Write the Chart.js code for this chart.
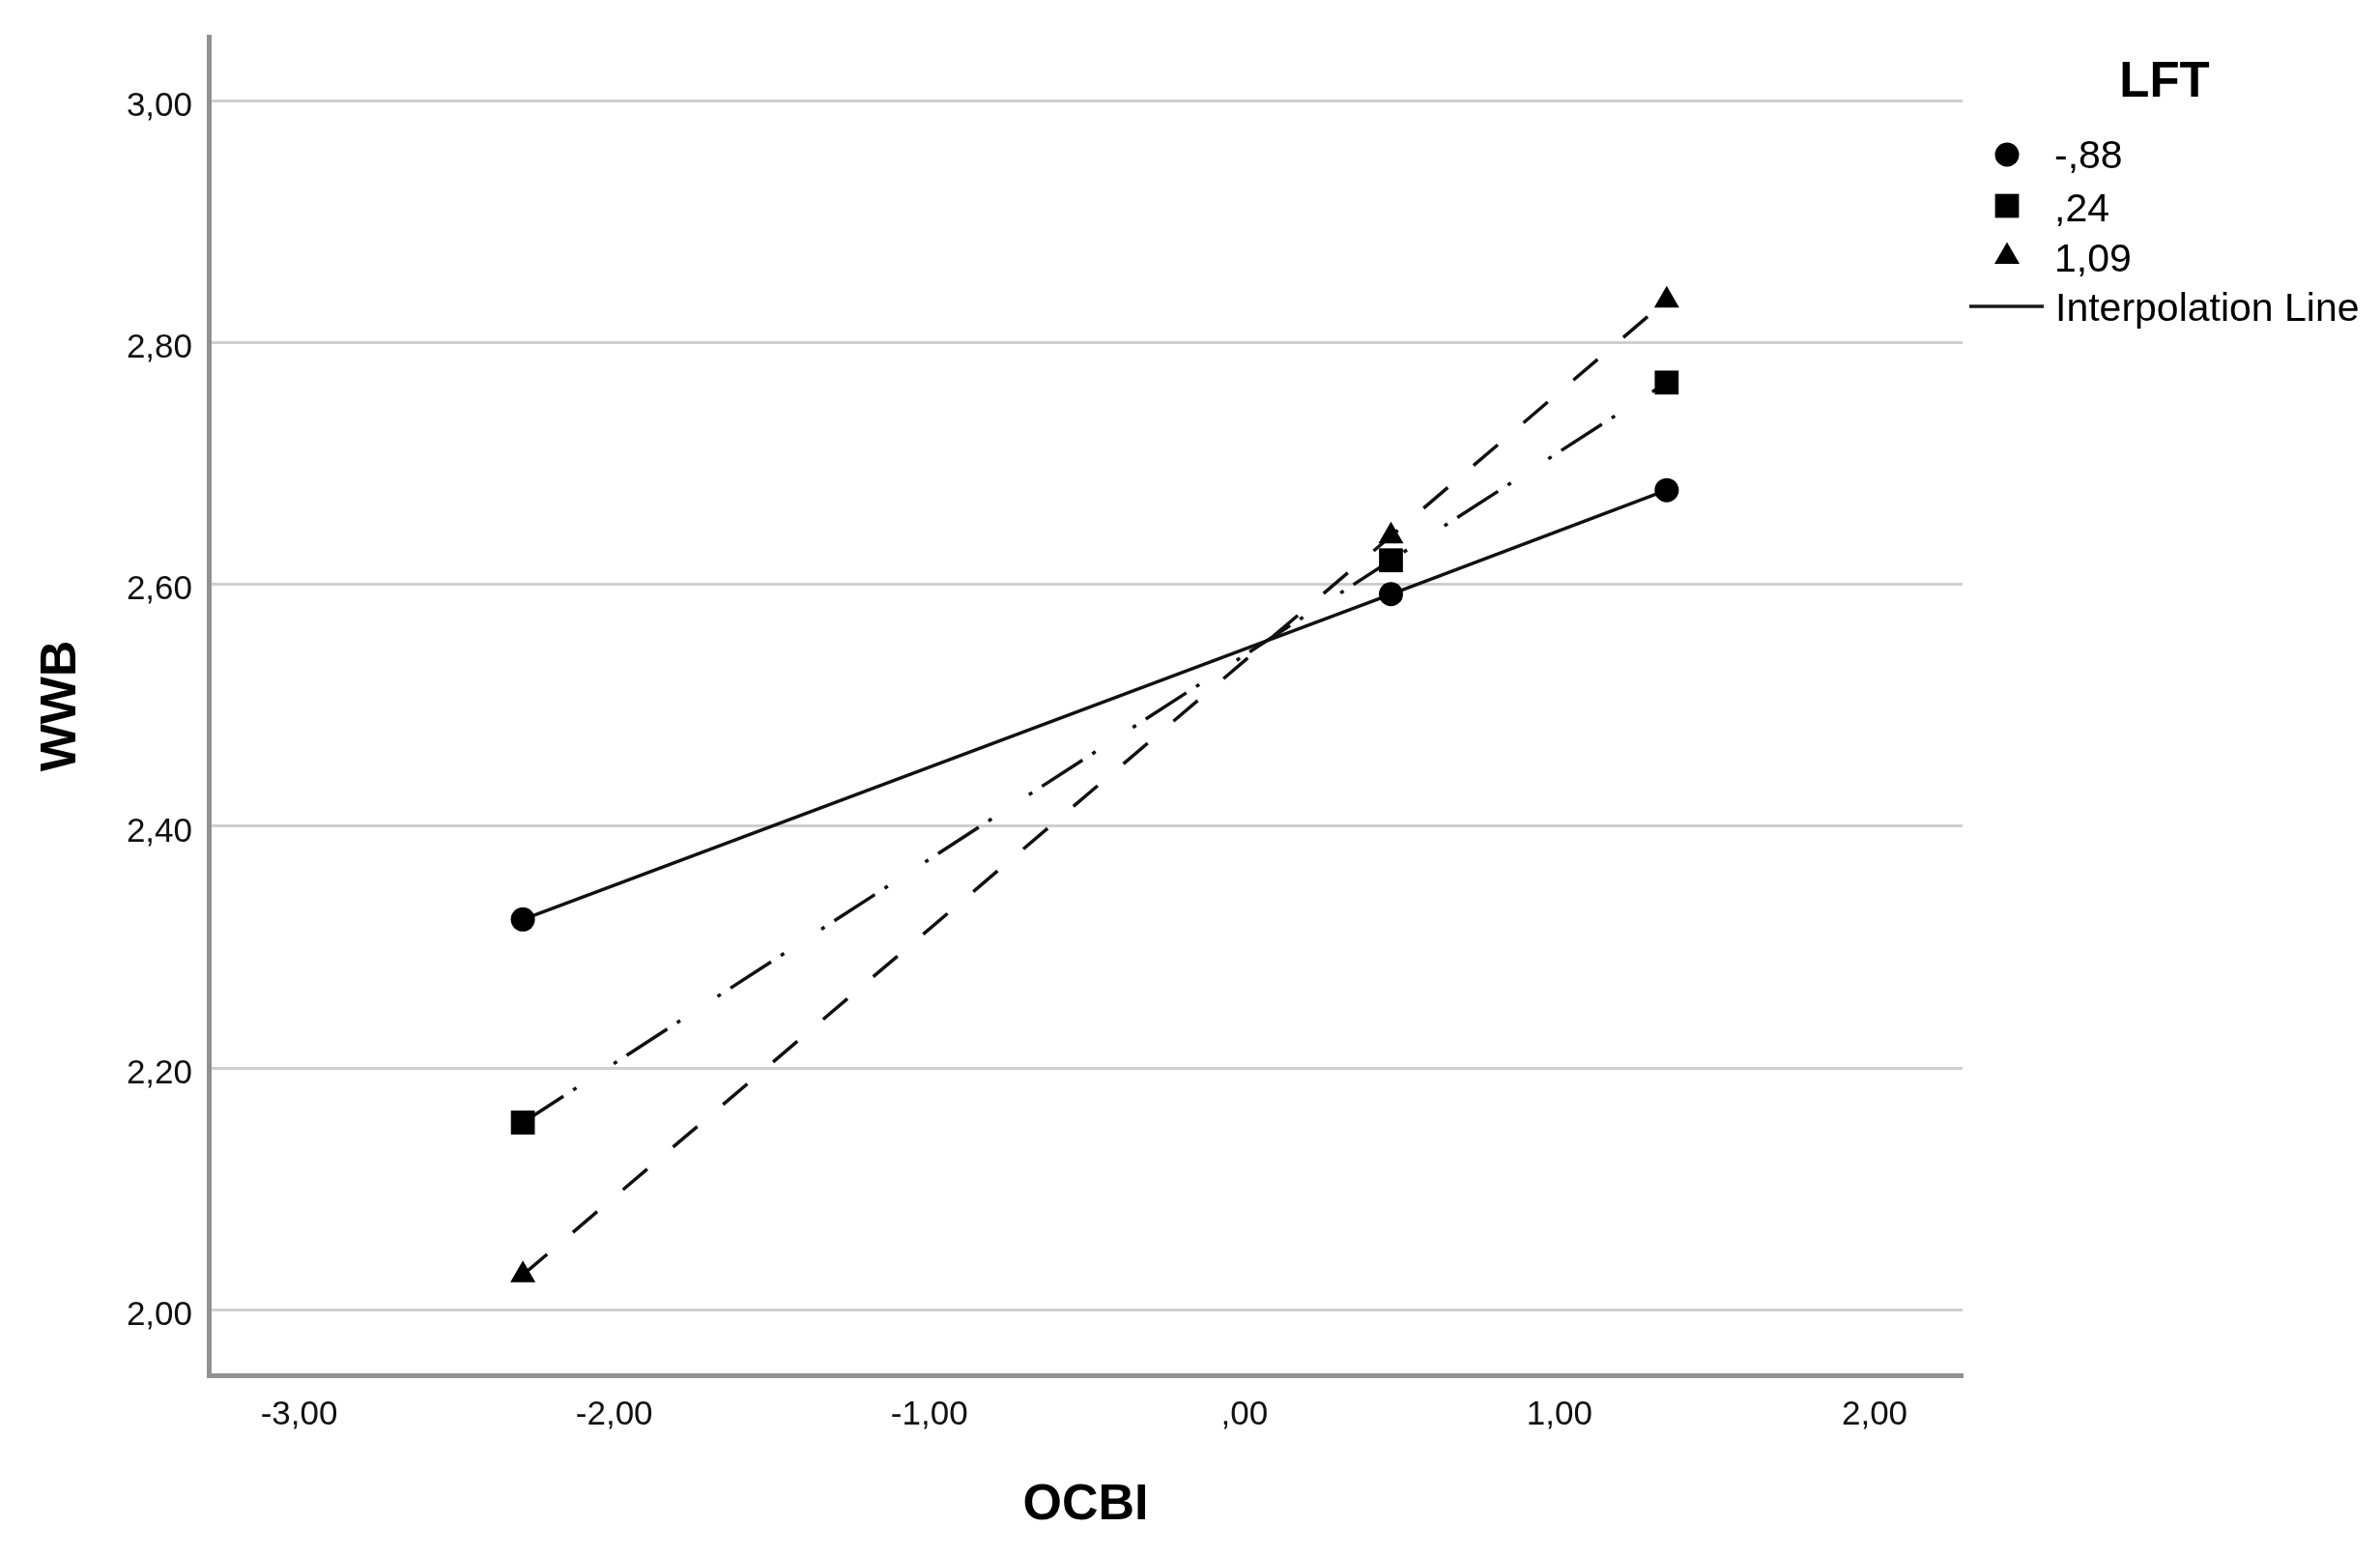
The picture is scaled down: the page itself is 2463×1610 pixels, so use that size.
<!DOCTYPE html>
<html>
<head>
<meta charset="utf-8">
<script src="https://cdn.jsdelivr.net/npm/chart.js@4/dist/chart.umd.min.js"></script>
<style>
html,body{margin:0;padding:0;background:#ffffff;}
canvas{display:block;}
</style>
</head>
<body>
<canvas id="c" width="2463" height="1610" style="width:2463px;height:1610px"></canvas>
<script>
// ---- data ----
const ocbiValues = [-2.29, 0.465, 1.34];
const lftLabels = ['-,88', ',24', '1,09'];
const wwbLow = [2.323, 2.592, 2.678];
const wwbMid = [2.155, 2.620, 2.767];
const wwbHigh = [2.029, 2.640, 2.835];
const xTicks = [-3, -2, -1, 0, 1, 2];
const yTicks = [2.0, 2.2, 2.4, 2.6, 2.8, 3.0];
const xTitle = 'OCBI';
const yTitle = 'WWB';
const legendTitle = 'LFT';
const interpLabel = 'Interpolation Line';

const FONT = "'Liberation Sans', Arial, Helvetica, sans-serif";
Chart.defaults.font.family = FONT;

function fmt(v) {
  let s = Math.abs(v).toFixed(2).replace('.', ',');
  if (s.startsWith('0,')) s = s.slice(1);
  return (v < 0 ? '-' : '') + s;
}

function pts(ys) { return ocbiValues.map((x, i) => ({x: x, y: ys[i]})); }

const legendPlugin = {
  id: 'spssLegend',
  afterDraw(chart) {
    const ctx = chart.ctx;
    ctx.save();
    ctx.fillStyle = '#000';
    ctx.font = 'bold 51px ' + FONT;
    ctx.textAlign = 'center';
    ctx.textBaseline = 'middle';
    ctx.fillText(legendTitle, 2240, 86);

    const markerX = 2077;
    const markerY = [160, 213, 265.5];
    const textY = [163, 218, 270];
    ctx.font = '41px ' + FONT;
    ctx.textAlign = 'left';
    chart.data.datasets.forEach((ds, i) => {
      ctx.fillStyle = '#000';
      ctx.strokeStyle = '#000';
      Chart.helpers.drawPoint(ctx, {
        pointStyle: ds.pointStyle,
        radius: ds.pointRadius,
        borderWidth: 0,
        rotation: 0
      }, markerX, markerY[i]);
      ctx.fillText(ds.label, 2126, textY[i]);
    });
    ctx.beginPath();
    ctx.strokeStyle = '#1a1a1a';
    ctx.lineWidth = 3.5;
    ctx.setLineDash([]);
    ctx.moveTo(2038, 317);
    ctx.lineTo(2115, 317);
    ctx.stroke();
    ctx.fillStyle = '#000';
    ctx.fillText(interpLabel, 2127, 321);
    ctx.restore();
  }
};

const common = {
  showLine: true,
  fill: false,
  tension: 0,
  borderColor: '#111111',
  backgroundColor: '#000',
  pointBackgroundColor: '#000',
  pointBorderWidth: 0,
  borderWidth: 3.5,
  borderCapStyle: 'butt'
};

new Chart(document.getElementById('c'), {
  type: 'scatter',
  data: {
    datasets: [
      Object.assign({}, common, {label: lftLabels[0], data: pts(wwbLow), pointStyle: 'circle', pointRadius: 12.5, borderDash: []}),
      Object.assign({}, common, {label: lftLabels[1], data: pts(wwbMid), pointStyle: 'rect', pointRadius: 17.5, borderDash: [50, 12, 4, 46, 4, 12]}),
      Object.assign({}, common, {label: lftLabels[2], data: pts(wwbHigh), pointStyle: 'triangle', pointRadius: 15, borderDash: [33, 35]})
    ]
  },
  options: {
    responsive: false,
    devicePixelRatio: 1,
    animation: false,
    layout: {padding: {top: 37, right: 432, left: 0, bottom: 0}},
    plugins: {legend: {display: false}, tooltip: {enabled: false}},
    scales: {
      x: {
        type: 'linear',
        min: -3.287,
        max: 2.279,
        afterBuildTicks: s => { s.ticks = xTicks.map(v => ({value: v})); },
        afterFit: s => { s.height = 187; },
        grid: {display: false, drawTicks: false},
        border: {display: true, color: '#919191', width: 5},
        ticks: {padding: 20, color: '#111', font: {size: 35}, callback: v => fmt(v), maxRotation: 0, autoSkip: false},
        title: {display: true, text: xTitle, color: '#000', font: {size: 52, weight: 'bold'}, padding: {top: 0, bottom: 21}}
      },
      y: {
        type: 'linear',
        min: 1.946,
        max: 3.053,
        afterBuildTicks: s => { s.ticks = yTicks.map(v => ({value: v})); },
        afterFit: s => { s.width = 216; },
        grid: {color: '#cfcfcf', lineWidth: 3, drawTicks: false},
        border: {display: true, color: '#919191', width: 5},
        ticks: {padding: 17, labelOffset: 6, color: '#111', font: {size: 35}, callback: v => fmt(v), autoSkip: false},
        title: {display: true, text: yTitle, color: '#000', font: {size: 52, weight: 'bold'}, padding: {top: 32, bottom: 0}}
      }
    }
  },
  plugins: [legendPlugin]
});
</script>
</body>
</html>
